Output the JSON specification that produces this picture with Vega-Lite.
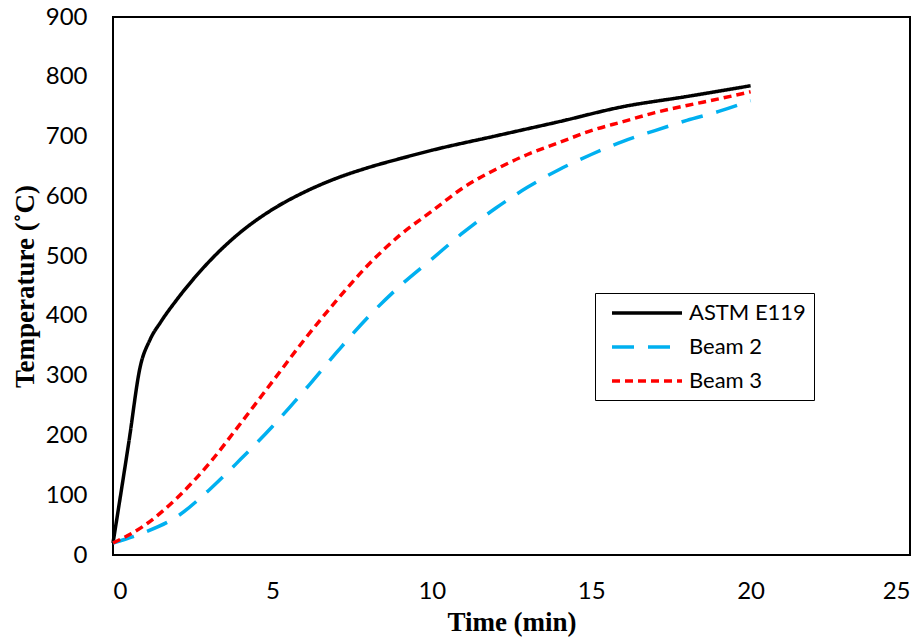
{
  "$schema": "https://vega.github.io/schema/vega-lite/v6.json",
  "width": 797,
  "height": 538,
  "autosize": {"type": "none"},
  "padding": {"left": 113, "top": 17, "right": 9, "bottom": 84},
  "background": "white",
  "config": {
    "view": {"stroke": "black", "strokeWidth": 2},
    "axis": {"grid": false, "ticks": false, "domain": false, "labelFont": "Lato", "labelFontSize": 24, "labelColor": "black", "titleFont": "Liberation Serif", "titleFontSize": 27, "titleFontWeight": "bold", "titleColor": "black"}
  },
  "data": {
    "values": [
      {"t": 0, "v": 20, "s": "ASTM E119"},
      {"t": 0.5, "v": 190, "s": "ASTM E119"},
      {"t": 0.85, "v": 314, "s": "ASTM E119"},
      {"t": 1.16, "v": 360, "s": "ASTM E119"},
      {"t": 1.5, "v": 390, "s": "ASTM E119"},
      {"t": 2, "v": 427, "s": "ASTM E119"},
      {"t": 3, "v": 490, "s": "ASTM E119"},
      {"t": 4, "v": 540, "s": "ASTM E119"},
      {"t": 5, "v": 578, "s": "ASTM E119"},
      {"t": 6, "v": 607, "s": "ASTM E119"},
      {"t": 7, "v": 630, "s": "ASTM E119"},
      {"t": 8, "v": 648, "s": "ASTM E119"},
      {"t": 9, "v": 663, "s": "ASTM E119"},
      {"t": 10, "v": 677, "s": "ASTM E119"},
      {"t": 12, "v": 701, "s": "ASTM E119"},
      {"t": 14, "v": 725, "s": "ASTM E119"},
      {"t": 16, "v": 750, "s": "ASTM E119"},
      {"t": 18, "v": 767, "s": "ASTM E119"},
      {"t": 20, "v": 785, "s": "ASTM E119"},
      {"t": 0, "v": 20, "s": "Beam 2"},
      {"t": 1, "v": 38, "s": "Beam 2"},
      {"t": 2, "v": 64, "s": "Beam 2"},
      {"t": 3, "v": 108, "s": "Beam 2"},
      {"t": 4, "v": 160, "s": "Beam 2"},
      {"t": 5, "v": 215, "s": "Beam 2"},
      {"t": 6, "v": 275, "s": "Beam 2"},
      {"t": 7, "v": 338, "s": "Beam 2"},
      {"t": 8, "v": 398, "s": "Beam 2"},
      {"t": 9, "v": 450, "s": "Beam 2"},
      {"t": 10, "v": 495, "s": "Beam 2"},
      {"t": 11, "v": 540, "s": "Beam 2"},
      {"t": 12, "v": 580, "s": "Beam 2"},
      {"t": 13, "v": 615, "s": "Beam 2"},
      {"t": 14, "v": 645, "s": "Beam 2"},
      {"t": 15, "v": 670, "s": "Beam 2"},
      {"t": 16, "v": 692, "s": "Beam 2"},
      {"t": 17, "v": 710, "s": "Beam 2"},
      {"t": 18, "v": 727, "s": "Beam 2"},
      {"t": 19, "v": 742, "s": "Beam 2"},
      {"t": 20, "v": 760, "s": "Beam 2"},
      {"t": 0, "v": 20, "s": "Beam 3"},
      {"t": 1, "v": 50, "s": "Beam 3"},
      {"t": 2, "v": 95, "s": "Beam 3"},
      {"t": 3, "v": 152, "s": "Beam 3"},
      {"t": 4, "v": 220, "s": "Beam 3"},
      {"t": 5, "v": 290, "s": "Beam 3"},
      {"t": 6, "v": 360, "s": "Beam 3"},
      {"t": 7, "v": 425, "s": "Beam 3"},
      {"t": 8, "v": 485, "s": "Beam 3"},
      {"t": 9, "v": 535, "s": "Beam 3"},
      {"t": 10, "v": 575, "s": "Beam 3"},
      {"t": 11, "v": 615, "s": "Beam 3"},
      {"t": 12, "v": 645, "s": "Beam 3"},
      {"t": 13, "v": 670, "s": "Beam 3"},
      {"t": 14, "v": 690, "s": "Beam 3"},
      {"t": 15, "v": 710, "s": "Beam 3"},
      {"t": 16, "v": 725, "s": "Beam 3"},
      {"t": 17, "v": 740, "s": "Beam 3"},
      {"t": 18, "v": 752, "s": "Beam 3"},
      {"t": 19, "v": 763, "s": "Beam 3"},
      {"t": 20, "v": 775, "s": "Beam 3"}
    ]
  },
  "mark": {"type": "line", "interpolate": "monotone", "strokeWidth": 3.5},
  "encoding": {
    "x": {"field": "t", "type": "quantitative", "scale": {"domain": [0, 25], "nice": false}, "axis": {"values": [0, 5, 10, 15, 20, 25], "title": "Time (min)", "labelPadding": 24, "titlePadding": 6}},
    "y": {"field": "v", "type": "quantitative", "scale": {"domain": [0, 900], "nice": false}, "axis": {"values": [0, 100, 200, 300, 400, 500, 600, 700, 800, 900], "title": "Temperature (˚C)", "labelPadding": 26, "titlePadding": 6}},
    "color": {"field": "s", "type": "nominal", "scale": {"domain": ["ASTM E119", "Beam 2", "Beam 3"], "range": ["#000000", "#00B0F0", "#FF0000"]},
      "legend": {"title": null, "orient": "none", "legendX": 482, "legendY": 276, "strokeColor": "black", "fillColor": "white", "padding": 8, "symbolType": "M-0.3,0H6.7", "symbolSize": 400, "symbolStrokeWidth": 3.5, "labelFont": "Lato", "labelFontSize": 22, "labelColor": "black", "rowPadding": 11, "labelOffset": 62}},
    "strokeDash": {"field": "s", "type": "nominal", "scale": {"domain": ["ASTM E119", "Beam 2", "Beam 3"], "range": [[1, 0], [22, 14], [8, 5]]}, "legend": null}
  }
}
